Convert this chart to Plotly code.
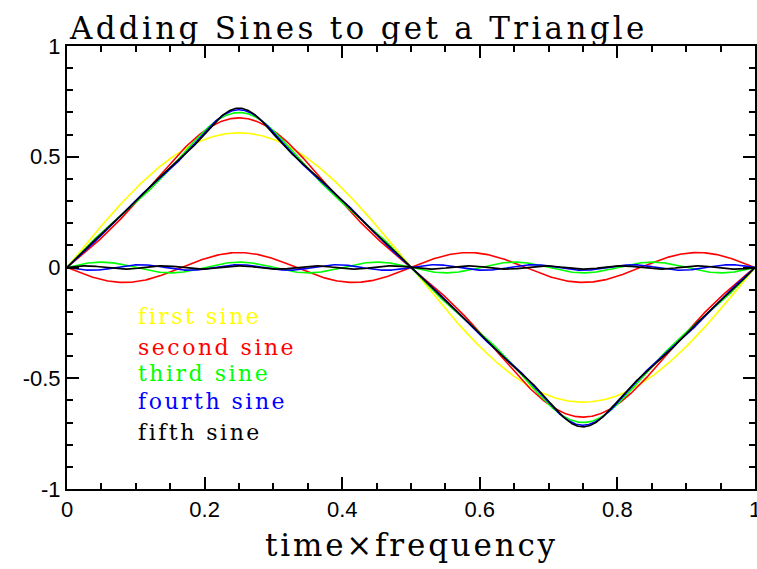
import numpy as np
import plotly.graph_objects as go

# Fourier components of a triangle wave, one colour per added sine
series_names = ["first sine", "second sine", "third sine", "fourth sine", "fifth sine"]
series_colors = ["#ffff00", "#ff0000", "#00ff00", "#0000ff", "#000000"]
harmonics = [1, 3, 5, 7, 9]
amplitudes = [0.608, -0.0675, 0.0243, -0.0124, 0.0075]

x_tick_vals = [0, 0.2, 0.4, 0.6, 0.8, 1]
x_tick_text = ["0", "0.2", "0.4", "0.6", "0.8", "1"]
y_tick_vals = [-1, -0.5, 0, 0.5, 1]
y_tick_text = ["-1", "-0.5", "0", "0.5", "1"]

# label placement (data coords) for the in-plot key
label_x = 0.1
label_y = [-0.22, -0.36, -0.478, -0.605, -0.745]

t = np.linspace(0, 1, 1201)

fig = go.Figure()
partial = np.zeros_like(t)
for name, color, n, a in zip(series_names, series_colors, harmonics, amplitudes):
    term = a * np.sin(2 * np.pi * n * t)
    partial = partial + term
    line = dict(color=color, width=1.6)
    fig.add_trace(go.Scatter(x=t, y=term, mode="lines", line=line,
                             name=name, showlegend=False, hoverinfo="skip"))
    if n != 1:
        fig.add_trace(go.Scatter(x=t, y=partial, mode="lines", line=line,
                                 name=name + " sum", showlegend=False, hoverinfo="skip"))

serif = "DejaVu Serif"
sans = "Liberation Sans, Arial, sans-serif"

for name, color, y in zip(series_names, series_colors, label_y):
    fig.add_annotation(x=label_x, y=y, xref="x", yref="y", xanchor="left", yanchor="middle",
                       text='<span style="letter-spacing:2.5px">' + name + "</span>",
                       showarrow=False, font=dict(family=serif, size=22, color=color))

fig.add_annotation(x=0, y=1, xref="paper", yref="paper", xanchor="left", yanchor="bottom",
                   text='<span style="letter-spacing:3.3px">Adding Sines to get a Triangle</span>',
                   showarrow=False, font=dict(family=serif, size=31, color="black"), yshift=-2)

fig.add_annotation(x=0.5, y=0, xref="paper", yref="paper", xanchor="center", yanchor="top",
                   text='<span style="letter-spacing:2.8px">time×frequency</span>',
                   showarrow=False, font=dict(family=serif, size=31, color="black"), yshift=-36)

axis_common = dict(showline=True, linecolor="black", linewidth=2, mirror="ticks",
                   ticks="inside", ticklen=12, tickwidth=1.5, tickcolor="black",
                   showgrid=False, zeroline=False, automargin=False,
                   ticklabeloverflow="allow",
                   tickfont=dict(family=sans, size=22, color="black"))

fig.update_xaxes(range=[0, 1], tickmode="array", tickvals=x_tick_vals, ticktext=x_tick_text,
                 minor=dict(tickmode="linear", tick0=0, dtick=0.05, ticks="inside",
                            ticklen=6, tickwidth=1.5, tickcolor="black", showgrid=False),
                 **axis_common)
fig.update_yaxes(range=[-1, 1], tickmode="array", tickvals=y_tick_vals, ticktext=y_tick_text,
                 minor=dict(tickmode="linear", tick0=0, dtick=0.1, ticks="inside",
                            ticklen=6, tickwidth=1.5, tickcolor="black", showgrid=False),
                 **axis_common)

fig.update_layout(width=757, height=569, margin=dict(l=67, r=2, t=46, b=80),
                  paper_bgcolor="white", plot_bgcolor="white", showlegend=False)

fig.write_html("out.html")
